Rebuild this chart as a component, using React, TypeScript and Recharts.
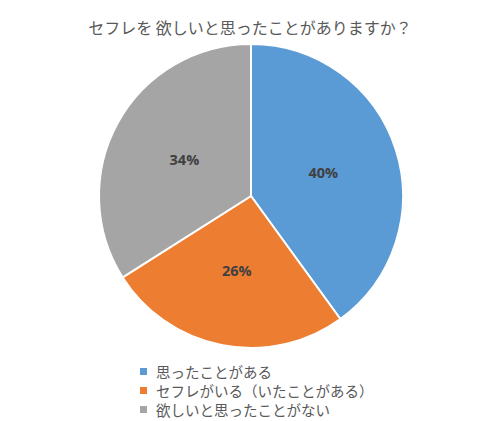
import { PieChart, Pie, Cell, Legend } from 'recharts';

const categories = ['思ったことがある', 'セフレがいる（いたことがある）', '欲しいと思ったことがない'];
const shares = [40, 26, 34];
const colors = ['#5B9BD5', '#ED7D31', '#A5A5A5'];
const title = 'セフレを 欲しいと思ったことがありますか？';

const data = categories.map((name, i) => ({ name, value: shares[i] }));

const JP_FONT = '"Noto Sans CJK JP", "Noto Sans", sans-serif';
const RADIAN = Math.PI / 180;

const renderLabel = ({ cx, cy, outerRadius, midAngle, value }: any) => {
  const r = outerRadius * 0.5;
  const x = cx + r * Math.cos(-midAngle * RADIAN);
  const y = cy + r * Math.sin(-midAngle * RADIAN);
  return (
    <text
      x={x}
      y={y}
      fill="#404040"
      textAnchor="middle"
      dominantBaseline="central"
      fontFamily='"Open Sans", "Noto Sans", sans-serif'
      fontWeight="bold"
      fontSize={14.5}
    >
      {`${value}%`}
    </text>
  );
};

const renderLegend = () => (
  <div style={{ fontFamily: JP_FONT, fontSize: 14.5, color: '#595959' }}>
    {categories.map((name, i) => (
      <div key={name} style={{ display: 'flex', alignItems: 'center', height: 19 }}>
        <span
          style={{
            display: 'inline-block',
            width: 7,
            height: 7,
            background: colors[i],
            marginRight: 9,
          }}
        />
        <span style={{ whiteSpace: 'nowrap' }}>{name}</span>
      </div>
    ))}
  </div>
);

export default function App() {
  return (
    <div
      style={{
        position: 'absolute',
        left: 0,
        top: 0,
        width: 500,
        height: 421,
        background: '#ffffff',
      }}
    >
      <div
        style={{
          position: 'absolute',
          left: 0,
          top: 15,
          width: 500,
          textAlign: 'center',
          fontFamily: JP_FONT,
          fontSize: 16,
          color: '#595959',
          whiteSpace: 'nowrap',
        }}
      >
        {title}
      </div>
      <PieChart width={500} height={421} margin={{ top: 0, right: 0, bottom: 0, left: 0 }}>
        <Pie
          data={data}
          dataKey="value"
          nameKey="name"
          cx={251}
          cy={196}
          outerRadius={152}
          startAngle={90}
          endAngle={-270}
          stroke="#ffffff"
          strokeWidth={2}
          labelLine={false}
          label={renderLabel}
          isAnimationActive={false}
        >
          {data.map((d, i) => (
            <Cell key={d.name} fill={colors[i]} />
          ))}
        </Pie>
        <Legend
          content={renderLegend}
          wrapperStyle={{ position: 'absolute', left: 140, top: 362, width: 260 }}
        />
      </PieChart>
    </div>
  );
}
